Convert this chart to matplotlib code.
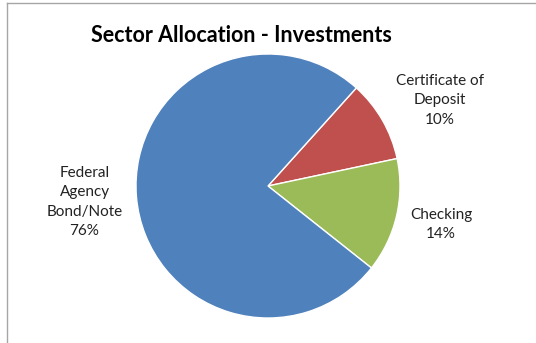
import matplotlib.pyplot as plt
from matplotlib.lines import Line2D

plt.rcParams['font.family'] = ['Lato', 'DejaVu Sans']

# sector shares in percent
sectors = ['Certificate of\nDeposit', 'Checking', 'Federal\nAgency\nBond/Note']
shares = [10, 14, 76]
colors = ['#C0504D', '#9BBB59', '#4F81BD']

# where each label sits (pie radius = 1)
label_pos = [(1.30, 0.65), (1.31, -0.29), (-1.39, -0.12)]

W, H = 536, 343
cx, cy, r = 268, 186, 132

fig = plt.figure(figsize=(W / 100, H / 100), dpi=100)
ax = fig.add_axes([0, 0, 1, 1])

ax.pie(shares, colors=colors, startangle=48, counterclock=False,
       radius=1, center=(0, 0), frame=True,
       wedgeprops=dict(edgecolor='white', linewidth=1))
ax.set_xlim(-cx / r, (W - cx) / r)
ax.set_ylim(-(H - cy) / r, cy / r)
ax.axis('off')

for name, val, (x, y) in zip(sectors, shares, label_pos):
    ax.text(x, y, f'{name}\n{val}%', ha='center', va='center',
            fontsize=11, color='#222222', linespacing=1.5)

fig.text(241 / W, 1 - 36 / H, 'Sector Allocation - Investments',
         ha='center', va='center', fontsize=15.5, fontweight='bold')

# chart border (left and top edges)
fig.add_artist(Line2D([6.5 / W, 6.5 / W], [0, 1 - 2.5 / H], transform=fig.transFigure,
                      color='#a6a6a6', linewidth=1))
fig.add_artist(Line2D([6.5 / W, 1], [1 - 2.5 / H, 1 - 2.5 / H], transform=fig.transFigure,
                      color='#a6a6a6', linewidth=1))

fig.savefig('out.png', dpi=100)
